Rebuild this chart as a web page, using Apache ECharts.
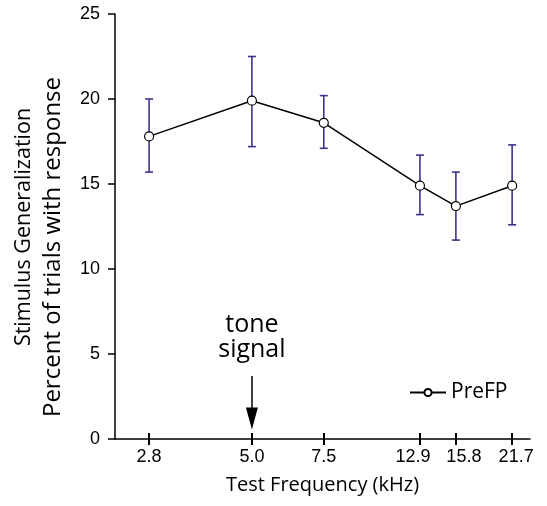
<!DOCTYPE html>
<html>
<head>
<meta charset="utf-8">
<script src="https://cdn.jsdelivr.net/npm/echarts@6/dist/echarts.min.js"></script>
<style>html,body{margin:0;padding:0;background:#fff;}#c{width:547px;height:506px;}</style>
</head>
<body>
<div id="c"></div>
<script>
const freqs = [2.8, 5.0, 7.5, 12.9, 15.8, 21.7];
const means = [17.8, 19.9, 18.6, 14.9, 13.7, 14.9];
const lower = [15.7, 17.2, 17.1, 13.2, 11.7, 12.6];
const upper = [20.0, 22.5, 20.2, 16.7, 15.7, 17.3];
const tickLabels = ['2.8', '5.0', '7.5', '12.9', '15.8', '21.7'];
const seriesName = 'PreFP';
const yTitle1 = 'Stimulus Generalization';
const yTitle2 = 'Percent of trials with response';
const xTitle = 'Test Frequency (kHz)';
const annotation = 'tone\nsignal';
const arrowFrom = [5.0, 3.7];
const arrowTo = [5.0, 1.2];

const FONT = '"Open Sans", "Noto Sans", sans-serif';
const NUMFONT = '"Liberation Sans", Arial, sans-serif';
// label nudges to keep crowded labels apart (style only)
const labelStyleKeys = ['c', 'c', 'c', 'l', 'r', 'r2'];
const chart = echarts.init(document.getElementById('c'));
const xMin = 2.31, xMax = 24.0;
const baseX = {
  type: 'log', logBase: 10, min: xMin, max: xMax,
  splitLine: {show: false}, minorTick: {show: false}
};
chart.setOption({
  animation: false,
  backgroundColor: '#fff',
  grid: {left: 115, right: 17, top: 14, bottom: 67, containLabel: false, outerBoundsMode: 'none'},
  xAxis: [
    Object.assign({}, baseX, {
      axisLine: {show: true, lineStyle: {color: '#000', width: 1.5}},
      axisTick: {show: true, inside: false, length: 6, lineStyle: {color: '#000', width: 2}, customValues: freqs},
      axisLabel: {show: true, margin: 9, color: '#000', fontSize: 18, fontFamily: NUMFONT,
        hideOverlap: false,
        customValues: freqs,
        formatter: v => {
          const i = freqs.findIndex(f => Math.abs(f - v) < 1e-6);
          return i >= 0 ? '{' + labelStyleKeys[i] + '|' + tickLabels[i] + '}' : '';
        },
        rich: {
          c: {fontSize: 18, fontFamily: NUMFONT, color: '#000'},
          l: {fontSize: 18, fontFamily: NUMFONT, color: '#000', padding: [0, 14, 0, 0]},
          r: {fontSize: 18, fontFamily: NUMFONT, color: '#000', padding: [0, 0, 0, 16]},
          r2: {fontSize: 18, fontFamily: NUMFONT, color: '#000', padding: [0, 0, 0, 8]}
        }},
      name: xTitle, nameLocation: 'middle', nameGap: 36,
      nameTextStyle: {color: '#000', fontSize: 20, fontFamily: FONT}
    }),
    Object.assign({}, baseX, {
      position: 'bottom',
      axisLine: {show: false},
      axisTick: {show: true, inside: true, length: 6, lineStyle: {color: '#000', width: 2}, customValues: freqs},
      axisLabel: {show: false}
    })
  ],
  yAxis: {
    type: 'value', min: 0, max: 25, interval: 5,
    splitLine: {show: false},
    axisLine: {show: true, lineStyle: {color: '#000', width: 1.5}},
    axisTick: {show: true, inside: false, length: 7, lineStyle: {color: '#000', width: 1.5}},
    axisLabel: {color: '#000', fontSize: 18, fontFamily: NUMFONT, margin: 15}
  },
  legend: {
    show: true, left: 404, top: 377, itemWidth: 36, itemHeight: 9, itemGap: 5,
    data: [{name: seriesName}],
    textStyle: {color: '#000', fontSize: 21, fontFamily: FONT}
  },
  graphic: [
    {type: 'text', x: 24, y: 227, rotation: Math.PI / 2,
      style: {text: yTitle1, fill: '#000', font: '21.5px ' + FONT, align: 'center', verticalAlign: 'middle'}},
    {type: 'text', x: 53, y: 247, rotation: Math.PI / 2,
      style: {text: yTitle2, fill: '#000', font: '24px ' + FONT, align: 'center', verticalAlign: 'middle'}}
  ],
  series: [
    {
      type: 'custom', name: 'err', xAxisIndex: 0, silent: true, z: 2,
      data: freqs.map((f, i) => [f, lower[i], upper[i]]),
      renderItem: function (params, api) {
        const lo = api.coord([api.value(0), api.value(1)]);
        const hi = api.coord([api.value(0), api.value(2)]);
        const w = 4;
        const st = {stroke: '#3d348b', lineWidth: 1.6, fill: 'none'};
        return {type: 'group', children: [
          {type: 'line', shape: {x1: lo[0], y1: lo[1], x2: hi[0], y2: hi[1]}, style: st},
          {type: 'line', shape: {x1: lo[0] - w, y1: lo[1], x2: lo[0] + w, y2: lo[1]}, style: st},
          {type: 'line', shape: {x1: hi[0] - w, y1: hi[1], x2: hi[0] + w, y2: hi[1]}, style: st}
        ]};
      }
    },
    {
      type: 'line', name: seriesName, xAxisIndex: 0, z: 3,
      data: freqs.map((f, i) => [f, means[i]]),
      symbol: 'circle', symbolSize: 9,
      itemStyle: {color: '#fff', borderColor: '#000', borderWidth: 1.2},
      lineStyle: {color: '#000', width: 1.5},
      markLine: {
        silent: true, symbol: ['none', 'triangle'], symbolSize: [12, 22],
        lineStyle: {color: '#000', width: 1.5, type: 'solid'},
        label: {show: true, position: 'start', formatter: annotation, color: '#000',
          fontSize: 25, fontFamily: FONT, lineHeight: 25, distance: 14},
        data: [[{coord: arrowFrom}, {coord: arrowTo}]]
      }
    }
  ]
});
</script>
</body>
</html>
